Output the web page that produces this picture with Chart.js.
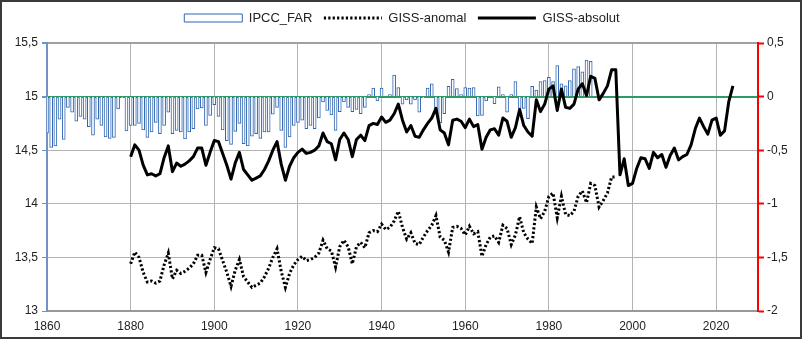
<!DOCTYPE html>
<html>
<head>
<meta charset="utf-8">
<title>IPCC_FAR / GISS</title>
<script src="https://cdn.jsdelivr.net/npm/chart.js@4.4.1/dist/chart.umd.min.js"></script>
<style>
  html, body { margin: 0; padding: 0; background: #fff; }
  #wrap { width: 804px; height: 341px; }
</style>
</head>
<body>
<div id="wrap"><canvas id="chart" width="804" height="341"></canvas></div>
<script>
/* ---------- data ---------- */

// IPCC_FAR anomaly bars (right axis), one value per year from 1860
const farStartYear = 1860;
const ipccFar = [
  -0.34, -0.475, -0.46, -0.21, -0.40, -0.10, -0.145, -0.23, -0.185, -0.21,
  -0.28, -0.36, -0.21, -0.27, -0.375, -0.39, -0.38, -0.115, -0.01, -0.32,
  -0.27, -0.27, -0.25, -0.31, -0.38, -0.33, -0.24, -0.345, -0.27, -0.145,
  -0.345, -0.315, -0.33, -0.395, -0.33, -0.30, -0.115, -0.105, -0.27, -0.175,
  -0.075, -0.185, -0.31, -0.41, -0.445, -0.325, -0.25, -0.44, -0.46, -0.37,
  -0.345, -0.39, -0.33, -0.33, -0.165, -0.10, -0.315, -0.475, -0.375, -0.27,
  -0.24, -0.22, -0.30, -0.27, -0.30, -0.20, -0.05, -0.13, -0.17, -0.315,
  -0.14, -0.05, -0.10, -0.14, -0.12, -0.16, -0.10, 0.02, 0.08, -0.04,
  0.08, 0.005, 0.02, 0.20, 0.085, -0.07, -0.03, -0.07, -0.03, -0.145,
  -0.01, 0.08, 0.12, -0.16, -0.245, -0.16, 0.095, 0.16, 0.075, 0.02,
  0.085, 0.08, 0.085, -0.18, -0.175, -0.04, 0.005, -0.065, 0.09, 0.02,
  -0.145, 0.02, 0.14, -0.11, -0.11, -0.205, 0.095, 0.06, 0.14, 0.15,
  0.18, 0.14, 0.29, 0.12, 0.10, 0.15, 0.26, 0.28, 0.23, 0.34,
  0.33
];

// GISS series (left axis), one value per year from 1880
const gissStartYear = 1880;
const gissAnomal = [
  13.44, 13.55, 13.50, 13.36, 13.27, 13.28, 13.26, 13.28, 13.43, 13.54,
  13.30, 13.38, 13.35, 13.37, 13.40, 13.44, 13.52, 13.52, 13.36, 13.48,
  13.59, 13.58, 13.47, 13.36, 13.23, 13.38, 13.48, 13.32, 13.27, 13.22,
  13.24, 13.26, 13.32, 13.40, 13.50, 13.58, 13.37, 13.22, 13.35, 13.43,
  13.48, 13.51, 13.47, 13.48, 13.50, 13.54, 13.66, 13.58, 13.56, 13.41,
  13.60, 13.66, 13.60, 13.44, 13.60, 13.64, 13.59, 13.73, 13.75, 13.74,
  13.81, 13.76, 13.78, 13.84, 13.93, 13.78, 13.67, 13.73, 13.63, 13.62,
  13.69, 13.75, 13.80, 13.89, 13.69, 13.66, 13.55, 13.78, 13.79, 13.77,
  13.71, 13.79, 13.72, 13.74, 13.51, 13.62, 13.69, 13.70, 13.64, 13.80,
  13.77, 13.62, 13.71, 13.88, 13.73, 13.67, 13.63, 13.97, 13.86, 13.93,
  14.07, 14.10, 13.87, 14.07, 13.90, 13.89, 13.93, 14.07, 14.12, 14.01,
  14.19, 14.17, 13.97, 14.03, 14.10, 14.25, 14.25
];
const gissAbsolut = [
  14.44, 14.55, 14.50, 14.36, 14.27, 14.28, 14.26, 14.28, 14.43, 14.54,
  14.30, 14.38, 14.35, 14.37, 14.40, 14.44, 14.52, 14.52, 14.36, 14.48,
  14.59, 14.58, 14.47, 14.36, 14.23, 14.38, 14.48, 14.32, 14.27, 14.22,
  14.24, 14.26, 14.32, 14.40, 14.50, 14.58, 14.37, 14.22, 14.35, 14.43,
  14.48, 14.51, 14.47, 14.48, 14.50, 14.54, 14.66, 14.58, 14.56, 14.41,
  14.60, 14.66, 14.60, 14.44, 14.60, 14.64, 14.59, 14.73, 14.75, 14.74,
  14.81, 14.76, 14.78, 14.84, 14.93, 14.78, 14.67, 14.73, 14.63, 14.62,
  14.69, 14.75, 14.80, 14.89, 14.69, 14.66, 14.55, 14.78, 14.79, 14.77,
  14.71, 14.79, 14.72, 14.74, 14.51, 14.62, 14.69, 14.70, 14.64, 14.80,
  14.77, 14.62, 14.71, 14.88, 14.73, 14.67, 14.63, 14.97, 14.86, 14.93,
  15.07, 15.10, 14.87, 15.07, 14.90, 14.89, 14.93, 15.07, 15.12, 15.01,
  15.19, 15.17, 14.97, 15.03, 15.10, 15.25, 15.25, 14.27, 14.42, 14.17,
  14.19, 14.33, 14.43, 14.42, 14.33, 14.48, 14.43, 14.46, 14.34, 14.45,
  14.52, 14.41, 14.44, 14.46, 14.55, 14.70, 14.80, 14.72, 14.65, 14.78,
  14.80, 14.64, 14.68, 14.95, 15.10
];

// axis ticks
const xTickYears = [1860, 1880, 1900, 1920, 1940, 1960, 1980, 2000, 2020];
const leftTicks = [13, 13.5, 14, 14.5, 15, 15.5];
const rightTicks = [-2, -1.5, -1, -0.5, 0, 0.5];
const seriesNames = ['IPCC_FAR', 'GISS-anomal', 'GISS-absolut'];

/* ---------- helpers ---------- */

const FONT = 'Liberation Sans, Arial, sans-serif';
const TEXT = '#222';
const DOTS = [2.2, 2.2];

function toPoints(values, startYear) {
  return values.map((v, i) => ({ x: startYear + i, y: v }));
}

function commaLabel(v) {
  return String(v).replace('.', ',');
}

// push the plot area down a bit below the legend
const legendGap = {
  id: 'legendGap',
  beforeLayout(chart) {
    const legend = chart.legend;
    if (!legend || legend._gapPatched) return;
    const fit = legend.fit;
    legend.fit = function () {
      fit.call(this);
      this.height += 8.5;
    };
    legend._gapPatched = true;
  }
};

// dark outer frame
const frame = {
  id: 'frame',
  afterDraw(chart) {
    const ctx = chart.ctx;
    ctx.save();
    ctx.strokeStyle = '#3a3a3a';
    ctx.lineWidth = 2;
    ctx.strokeRect(1, 1, 800, 337);
    ctx.restore();
  }
};

/* ---------- chart ---------- */

const ctx = document.getElementById('chart');

new Chart(ctx, {
  data: {
    datasets: [
      {
        type: 'bar',
        label: seriesNames[0],
        data: toPoints(ipccFar, farStartYear),
        xAxisID: 'x',
        yAxisID: 'yR',
        backgroundColor: '#ffffff',
        borderColor: '#2f66b3',
        borderWidth: 1,
        barThickness: 3,
        order: 3
      },
      {
        type: 'line',
        label: seriesNames[1],
        data: toPoints(gissAnomal, gissStartYear),
        xAxisID: 'x',
        yAxisID: 'y',
        borderColor: '#000',
        backgroundColor: '#000',
        borderWidth: 3,
        borderDash: DOTS,
        pointRadius: 0,
        tension: 0,
        order: 1
      },
      {
        type: 'line',
        label: seriesNames[2],
        data: toPoints(gissAbsolut, gissStartYear),
        xAxisID: 'x',
        yAxisID: 'y',
        borderColor: '#000',
        backgroundColor: '#000',
        borderWidth: 3,
        borderJoinStyle: 'round',
        pointRadius: 0,
        tension: 0,
        order: 0
      }
    ]
  },
  options: {
    responsive: false,
    animation: false,
    devicePixelRatio: 1,
    layout: { padding: { top: 0, left: 0, right: 0, bottom: 0 } },
    plugins: {
      tooltip: { enabled: false },
      legend: {
        position: 'top',
        labels: {
          usePointStyle: true,
          pointStyleWidth: 58,
          boxHeight: 8,
          padding: 11.5,
          color: TEXT,
          font: { family: FONT, size: 13 },
          sort: (a, b) => a.datasetIndex - b.datasetIndex,
          generateLabels(chart) {
            const items = Chart.defaults.plugins.legend.labels.generateLabels(chart);
            items.forEach(it => {
              if (it.datasetIndex === 0) {
                it.pointStyle = 'rect';
                it.lineWidth = 1;
                it.lineDash = [];
              } else {
                it.pointStyle = 'line';
                it.lineWidth = 3;
                it.strokeStyle = '#000';
                it.lineDash = it.datasetIndex === 1 ? DOTS : [];
              }
            });
            return items;
          }
        }
      }
    },
    scales: {
      x: {
        type: 'linear',
        min: 1860,
        max: 2030,
        offset: false,
        afterBuildTicks: axis => { axis.ticks = xTickYears.map(v => ({ value: v })); },
        afterFit: axis => { axis.height = 30; },
        ticks: {
          color: TEXT,
          font: { family: FONT, size: 12 },
          padding: 8,
          maxRotation: 0,
          callback: v => String(v)
        },
        grid: {
          color: '#b3b3b3',
          lineWidth: 1,
          drawTicks: false,
          offset: false
        },
        border: { display: true, color: '#999', width: 2 }
      },
      y: {
        type: 'linear',
        position: 'left',
        min: 13,
        max: 15.5,
        afterBuildTicks: axis => { axis.ticks = leftTicks.map(v => ({ value: v })); },
        afterFit: axis => { axis.width = 47; },
        ticks: {
          color: TEXT,
          font: { family: FONT, size: 12 },
          padding: 4,
          callback: v => commaLabel(v)
        },
        grid: {
          color: c => (c.tick && c.tick.value === 15) ? '#2e9a6a' :
                      (c.tick && c.tick.value === 15.5) ? '#a0a0a0' : '#b3b3b3',
          lineWidth: c => (c.tick && (c.tick.value === 15 || c.tick.value === 15.5)) ? 2 : 1,
          tickColor: '#6f93c4',
          tickLength: 5
        },
        border: { display: true, color: '#6f93c4', width: 2 }
      },
      yR: {
        type: 'linear',
        position: 'right',
        min: -2,
        max: 0.5,
        afterBuildTicks: axis => { axis.ticks = rightTicks.map(v => ({ value: v })); },
        afterFit: axis => { axis.width = 46; },
        ticks: {
          color: TEXT,
          font: { family: FONT, size: 12 },
          padding: 3,
          callback: v => commaLabel(v)
        },
        grid: {
          drawOnChartArea: false,
          tickColor: '#ff0000',
          tickWidth: 2,
          tickLength: 6
        },
        border: { display: true, color: '#ff0000', width: 2 }
      }
    }
  },
  plugins: [legendGap, frame]
});
</script>
</body>
</html>
